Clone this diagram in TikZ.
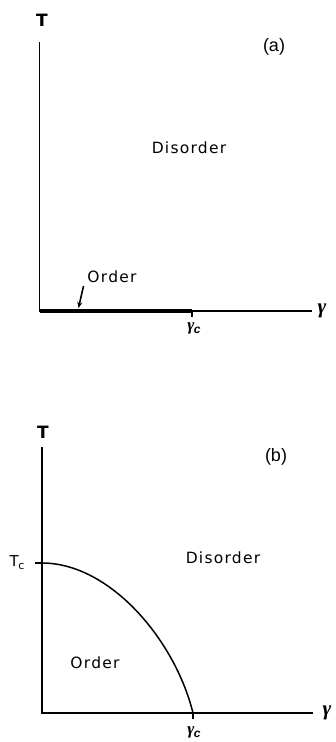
\documentclass[tikz,border=0pt]{standalone}
\usepackage{amsmath}
\usepackage{fontspec}
\usetikzlibrary{arrows.meta}
\setmainfont{DejaVu Sans}
\newfontfamily\lblfont[LetterSpace=8]{DejaVu Sans}
\newfontfamily\thinfont{Liberation Sans}
\newfontfamily\gamfont{Liberation Serif}
\begin{document}
\begin{tikzpicture}[x=1pt,y=-1pt,
  axis/.style={line width=1.9pt},
  orderline/.style={line width=4pt},
  lbl/.style={font=\fontsize{15.5}{17}\lblfont, inner sep=0pt},
  panel/.style={font=\fontsize{18}{20}\thinfont, inner sep=0pt},
  axlbl/.style={font=\fontsize{17}{19}\selectfont\bfseries, inner sep=0pt},
  gam/.style={font=\fontsize{21}{22}\gamfont\bfseries\itshape, inner sep=0pt},
  gamc/.style={font=\fontsize{13}{14}\selectfont, inner sep=0pt}]
\useasboundingbox (0,0) rectangle (336,742);
% ---------- panel (a) ----------
\coordinate (a0) at (39.5,311);
\coordinate (atop) at (39.5,42);
\coordinate (aright) at (312,311);
\coordinate (ac) at (192,311);
\coordinate (actick) at (192,317);
\draw[axis] (atop) -- (a0) -- (aright);
\draw[orderline] (a0) -- (ac);
\draw[axis] (ac) -- (actick);
\node[axlbl] (aT) at (42,20) {T};
\node[panel] (alab) at (274,47) {(a)};
\node[lbl] (adis) at (189,148) {Disorder};
\node[lbl] (aord) at (112,277) {Order};
\coordinate (aarr) at (78.5,308);
\draw[line width=1.6pt,-{Stealth[length=6pt,width=5pt]}] (83.5,286) -- (aarr);
\node[gam] (ag) at (322,311) {γ};
\node[inner sep=0pt] (agc) at (194,328) {\fontsize{17}{18}\gamfont\bfseries\itshape γ\kern-0.5pt\raisebox{-3pt}{\fontsize{12}{13}\thinfont c}};
% ---------- panel (b) ----------
\coordinate (b0) at (42,713);
\coordinate (btop) at (42,447);
\coordinate (bright) at (313,713);
\coordinate (bTc) at (42,563);
\coordinate (bTctick) at (35,563);
\coordinate (bgc) at (193,713);
\coordinate (bgctick) at (193,719);
\draw[axis] (btop) -- (b0) -- (bright);
\draw[axis] (bTctick) -- (bTc);
\draw[axis] (bgc) -- (bgctick);
\draw[line width=1.5pt] (bTc) .. controls (110,563) and (175,640) .. (bgc);
\node[axlbl] (bT) at (43,432) {T};
\node[panel] (blab) at (276,457) {(b)};
\node[inner sep=0pt] (bTcl) at (17,563) {\fontsize{15}{16}\selectfont T\kern-0.5pt\raisebox{-3pt}{\fontsize{11}{12}\selectfont c}};
\node[lbl] (bdis) at (223,558) {Disorder};
\node[lbl] (bord) at (95,663) {Order};
\node[gam] (bg) at (327,713) {γ};
\node[inner sep=0pt] (bgcl) at (194,732) {\fontsize{17}{18}\gamfont\bfseries\itshape γ\kern-0.5pt\raisebox{-3pt}{\fontsize{12}{13}\thinfont c}};
\end{tikzpicture}
\end{document}
